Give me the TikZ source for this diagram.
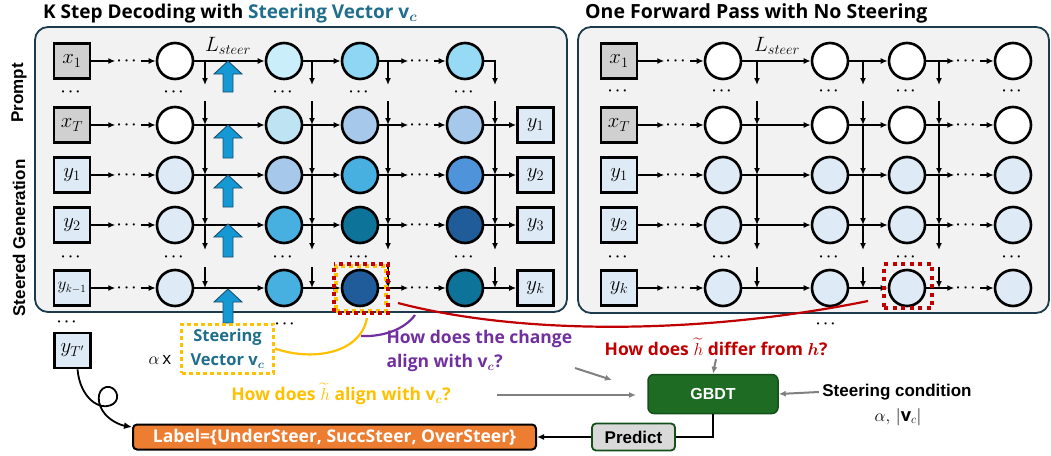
\documentclass[tikz,border=0pt]{standalone}
\usepackage{amsmath}
\usepackage{fontspec}
\setmainfont{Open Sans}
\newfontfamily\arialf{Liberation Sans}
\usetikzlibrary{arrows.meta,calc}
\definecolor{panelfill}{HTML}{F2F2F2}
\definecolor{panelline}{HTML}{1C3B4C}
\definecolor{tealc}{HTML}{1F6E8C}
\definecolor{tokgray}{HTML}{D0D0D0}
\definecolor{toklight}{HTML}{DEEBF7}
\definecolor{ca}{HTML}{CBEEFB}
\definecolor{cb}{HTML}{8ED6F3}
\definecolor{cc}{HTML}{96DAF5}
\definecolor{cd}{HTML}{BEE4F4}
\definecolor{ce}{HTML}{A6C8EB}
\definecolor{cf}{HTML}{47B0E0}
\definecolor{cg}{HTML}{4F94DA}
\definecolor{ch}{HTML}{0E7399}
\definecolor{ci}{HTML}{205C9A}
\definecolor{arrfill}{HTML}{1499D4}
\definecolor{arrline}{HTML}{1D4E6E}
\definecolor{qyellow}{HTML}{FFC000}
\definecolor{qpurple}{HTML}{7030A0}
\definecolor{qred}{HTML}{C00000}
\definecolor{qgray}{HTML}{808080}
\definecolor{gbdtfill}{HTML}{1E6B24}
\definecolor{gbdtline}{HTML}{15501B}
\definecolor{labfill}{HTML}{ED7D31}
\definecolor{predfill}{HTML}{D9D9D9}
\tikzset{
  conn/.style={line width=1.7pt,-{Latex[length=7pt,width=6pt]}},
  tok/.style={draw,line width=2.6pt,minimum width=36pt,minimum height=35pt,inner sep=0pt,font=\fontsize{20}{22}\selectfont},
  hid/.style={circle,draw,line width=2.6pt,minimum size=36pt,inner sep=0pt},
  dotsn/.style={inner sep=1.5pt,font=\fontsize{15}{16}\selectfont},
  panel/.style={draw=panelline,fill=panelfill,line width=1.8pt,rounded corners=13pt},
  bluearr/.style={fill=arrfill,draw=arrline,line width=0.9pt},
  qtext/.style={font=\bfseries\fontsize{17.5}{24}\selectfont},
  garrow/.style={draw=qgray,line width=2pt,-{Latex[length=7pt,width=6pt]}},
  hlbox/.style={line width=3.6pt,minimum width=50pt,minimum height=45pt,inner sep=0pt},
}
\newcommand{\dotsym}{$\boldsymbol{\cdots}$}
\begin{document}
\begin{tikzpicture}[x=1pt,y=-1pt]
\useasboundingbox (0,0) rectangle (1051,455);

% titles
\node[anchor=base west,font=\bfseries\fontsize{19}{22}\selectfont,inner sep=0pt] (t1) at (43,18.5) {K Step Decoding with \textcolor{tealc}{Steering Vector $\mathbf{v}_{\boldsymbol{c}}$}};
\node[anchor=base west,font=\bfseries\fontsize{19.5}{22}\selectfont,inner sep=0pt] (t2) at (585,18.5) {One Forward Pass with No Steering};

% side labels
\node[rotate=90,font=\arialf\bfseries\fontsize{17}{20}\selectfont] (pr) at (19,93) {Prompt};
\node[rotate=90,font=\arialf\bfseries\fontsize{17}{20}\selectfont] (sg) at (19,238) {Steered Generation};

% panels
\draw[panel] (35,27) rectangle (567,312);
\draw[panel] (578,27) rectangle (1049,313);

% L_steer labels
\node[font=\fontsize{20}{22}\selectfont] (ls1) at (228,46) {$L_{steer}$};
\node[font=\fontsize{20}{22}\selectfont] (ls2) at (777,46) {$L_{steer}$};

% ---------- left panel grid
\foreach \r/\y/\t/\tf/\fa/\fb/\fc/\fd in {
  1/61/{$x_1$}/tokgray/white/ca/cb/cc,
  2/125/{$x_T$}/tokgray/white/cd/ce/ce,
  3/175/{$y_1$}/toklight/toklight/ce/cf/cg,
  4/225/{$y_2$}/toklight/toklight/cf/ch/ci,
  5/288/{\fontsize{16}{18}\selectfont$y_{k-1}$}/toklight/toklight/cf/ci/ch}{
  \node[tok,fill=\tf] (Lb-\r) at (72,\y) {\t};
  \node[dotsn] (Ldl-\r) at (128,\y) {\dotsym};
  \node[hid,fill=\fa] (L-\r-1) at (175,\y) {};
  \node[hid,fill=\fb] (L-\r-2) at (284,\y) {};
  \node[hid,fill=\fc] (L-\r-3) at (360,\y) {};
  \node[dotsn] (Ldr-\r) at (421,\y) {\dotsym};
  \node[hid,fill=\fd] (L-\r-4) at (465,\y) {};
  \draw[conn] (Lb-\r) -- (Ldl-\r);
  \draw[conn] (Ldl-\r) -- (L-\r-1);
  \draw[conn] (L-\r-1) -- (L-\r-2);
  \draw[conn] (L-\r-2) -- (L-\r-3);
  \draw[conn] (L-\r-3) -- (Ldr-\r);
  \draw[conn] (Ldr-\r) -- (L-\r-4);
}
% output tokens
\foreach \r/\y/\t in {2/125/{$y_1$},3/175/{$y_2$},4/225/{$y_3$},5/288/{$y_k$}}{
  \node[tok,fill=toklight] (Lo-\r) at (535.5,\y) {\t};
  \draw[conn] (L-\r-4) -- (Lo-\r);
}
\draw[conn] (L-1-4.east) -| (495,85);
% vertical attention lines
\foreach \v in {205,312,388}{ \draw[conn] (\v,61) -- (\v,85); }
\foreach \v in {205,312,388,495}{
  \draw[conn] (\v,101) -- (\v,125);
  \draw[conn] (\v,125) -- (\v,175);
  \draw[conn] (\v,175) -- (\v,225);
  \draw[conn] (\v,225) -- (\v,250);
  \draw[conn] (\v,267) -- (\v,288);
}
% dots rows
\foreach \x [count=\i] in {72,175,284,360,465}{
  \node[dotsn] (Lv1-\i) at (\x,92) {\dotsym};
  \node[dotsn] (Lv2-\i) at (\x,257) {\dotsym};
}
% steering arrows
\foreach \t/\b in {61/92,125/158,175/207,224/257,289/323}{
  \filldraw[bluearr] (223,\b) -- (223,\t+13) -- (214,\t+13) -- (228,\t) -- (242,\t+13) -- (233,\t+13) -- (233,\b) -- cycle;
}

% ---------- right panel grid
\foreach \r/\y/\t/\tf/\fa in {
  1/61/{$x_1$}/tokgray/white,
  2/125/{$x_T$}/tokgray/white,
  3/175/{$y_1$}/toklight/toklight,
  4/225/{$y_2$}/toklight/toklight,
  5/288/{$y_k$}/toklight/toklight}{
  \node[tok,fill=\tf] (Rb-\r) at (619,\y) {\t};
  \node[dotsn] (Rdl-\r) at (677,\y) {\dotsym};
  \node[hid,fill=\fa] (R-\r-1) at (723,\y) {};
  \node[hid,fill=\fa] (R-\r-2) at (830,\y) {};
  \node[hid,fill=\fa] (R-\r-3) at (907,\y) {};
  \node[dotsn] (Rdr-\r) at (967,\y) {\dotsym};
  \node[hid,fill=\fa] (R-\r-4) at (1013,\y) {};
  \draw[conn] (Rb-\r) -- (Rdl-\r);
  \draw[conn] (Rdl-\r) -- (R-\r-1);
  \draw[conn] (R-\r-1) -- (R-\r-2);
  \draw[conn] (R-\r-2) -- (R-\r-3);
  \draw[conn] (R-\r-3) -- (Rdr-\r);
  \draw[conn] (Rdr-\r) -- (R-\r-4);
}
\foreach \v in {757,863,939}{
  \draw[conn] (\v,61) -- (\v,85);
  \draw[conn] (\v,101) -- (\v,125);
  \draw[conn] (\v,125) -- (\v,175);
  \draw[conn] (\v,175) -- (\v,225);
  \draw[conn] (\v,225) -- (\v,250);
  \draw[conn] (\v,267) -- (\v,288);
}
\foreach \x [count=\i] in {619,723,830,907,1013}{
  \node[dotsn] (Rv1-\i) at (\x,91) {\dotsym};
  \node[dotsn] (Rv2-\i) at (\x,257) {\dotsym};
}
\node[dotsn] (Rv3) at (827,324) {\dotsym};

% highlight boxes
\node[hlbox,draw=qyellow,dash pattern=on 4pt off 4pt] (hlL) at (361,288.5) {};
\draw[qred,line width=3.6pt,dash pattern=on 4pt off 4pt,dash phase=4pt] (hlL.north west) rectangle (hlL.south east);
\node[hlbox,draw=qred,dash pattern=on 4pt off 4.5pt,minimum width=48pt,minimum height=44pt] (hlR) at (908,286) {};

% below left panel
\node[dotsn] (Lv3) at (68,322) {\dotsym};
\node[tok,fill=toklight] (Ltp) at (72.5,350.5) {$y_{T'}$};
\node[dotsn] (Lv4) at (286,324) {\dotsym};
\node[font=\fontsize{17}{18}\selectfont] (alx) at (160,360) {$\alpha$\,x};
\node[draw=qyellow,line width=3pt,dash pattern=on 4pt off 3pt,minimum width=92pt,minimum height=49pt,inner sep=0pt,align=center,text=tealc,font=\bfseries\fontsize{16.5}{24}\selectfont] (sv) at (227.5,348.5) {Steering\\Vector $\mathbf{v}_{\boldsymbol{c}}$};

% questions
\node[qtext,text=qpurple,anchor=west,align=left] (qp) at (383,351) {How does the change\\align with $\mathbf{v}_{\boldsymbol{c}}$?};
\node[qtext,text=qyellow] (qy) at (341,394) {How does $\widetilde{h}$ align with $\mathbf{v}_{\boldsymbol{c}}$?};
\node[qtext,text=qred] (qr) at (716,347) {How does $\widetilde{h}$ differ from $\boldsymbol{h}$?};

% curves
\coordinate (redA) at (398,303);
\coordinate (redB) at (868,301);
\draw[qred,line width=2.2pt] (redA) .. controls (520,335) and (700,335) .. (redB);
\coordinate (yelA) at (367,318);
\draw[qyellow,line width=2.2pt] (yelA) .. controls (360,355) and (310,361) .. (sv.east);
\coordinate (purA) at (415,315);
\coordinate (purB) at (361,336);
\draw[qpurple,line width=2.2pt] (purA) .. controls (404,330) and (382,337) .. (purB);

% GBDT part
\node[draw=gbdtline,fill=gbdtfill,line width=1.5pt,rounded corners=6pt,minimum width=130pt,minimum height=39pt,text=white,font=\arialf\bfseries\fontsize{16}{18}\selectfont] (gb) at (713,394) {GBDT};
\node[draw=gbdtline,fill=predfill,line width=1.8pt,rounded corners=4pt,minimum width=83pt,minimum height=27pt,inner sep=0pt,font=\arialf\bfseries\fontsize{17}{18}\selectfont] (pd) at (633.5,437) {Predict};
\node[draw=black,fill=labfill,line width=2pt,rounded corners=4pt,minimum width=403pt,minimum height=25pt,inner sep=0pt,text=white,font=\bfseries\fontsize{17.5}{18}\selectfont] (lab) at (334.5,437) {Label=\{UnderSteer, SuccSteer, OverSteer\}};
\node[font=\arialf\bfseries\fontsize{17}{20}\selectfont] (sc) at (897,392) {Steering condition};
\node[font=\fontsize{18}{20}\selectfont] (sca) at (898,417) {$\alpha,\,|\mathbf{v}_c|$};

\draw[garrow] (sc.west) -- (gb.east);
\draw[garrow] (qr.south) -- (gb.north);
\coordinate (gpA) at (575,368);
\draw[garrow] (gpA) -- (612,380);
\coordinate (gyA) at (497,395);
\draw[garrow] (gyA) -- (636,395);
\draw[line width=1.8pt] (gb.south) |- (pd.east);
\draw[conn] (pd.west) -- (lab.east);
\draw[line width=1.8pt,-{Latex[length=8pt,width=7pt]}] ([xshift=5pt]Ltp.south) .. controls (80,398) and (100,412) .. (113,404) .. controls (122,398) and (115,385) .. (106,387) .. controls (96,390) and (97,405) .. (105,414) .. controls (111,421) and (120,425) .. ([yshift=10pt]lab.west);
\end{tikzpicture}
\end{document}
